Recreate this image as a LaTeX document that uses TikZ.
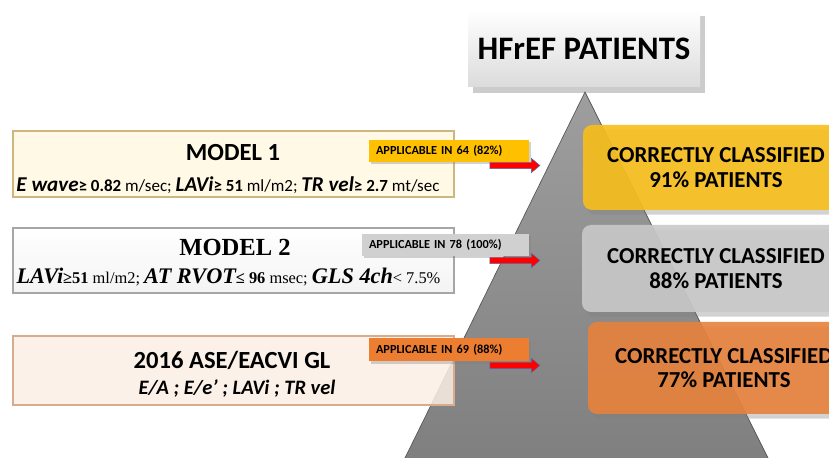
\documentclass[tikz,border=0pt]{standalone}
\usepackage{fontspec}
\setmainfont{Carlito}
\newfontfamily\calibri{Carlito}
\newfontfamily\tnr{Liberation Serif}
\usetikzlibrary{positioning}
\usetikzlibrary{shapes.arrows}
\usetikzlibrary{shadows}
\newdimen\px \px=0.03cm
\definecolor{mgold}{HTML}{F8BF1A}
\definecolor{mgrey}{HTML}{C9C9C9}
\definecolor{morange}{HTML}{E8823C}
\definecolor{agold}{HTML}{FFC000}
\definecolor{agrey}{HTML}{D0D0D0}
\definecolor{aorange}{HTML}{ED7D31}
\definecolor{m1line}{HTML}{CDB77E}
\definecolor{m1fill}{HTML}{FFF8E2}
\definecolor{m3line}{HTML}{D6AC8C}
\definecolor{m3fill}{HTML}{FBEFE6}
\definecolor{arrline}{HTML}{4A6FB0}
\newcommand{\bigit}[1]{{\fontsize{18pt}{20pt}\selectfont\bfseries\itshape #1}}
\newcommand{\smb}[1]{{\bfseries #1}}
\tikzset{
  modelbox/.style={line width=1.2pt, minimum width=441\px, inner sep=0pt, fill opacity=0.85},
  headtext/.style={font=\calibri\fontsize{21pt}{24pt}\selectfont\bfseries},
  appbox/.style={minimum height=22\px, inner xsep=7\px, inner ysep=0pt, align=left,
    font=\calibri\fontsize{10.5pt}{12pt}\selectfont\bfseries,
    drop shadow={shadow xshift=2pt, shadow yshift=-2pt, opacity=0.35}},
  resbox/.style={rounded corners=9\px, align=center, fill opacity=0.9, text opacity=1,
    font=\calibri\fontsize{19.5pt}{21pt}\selectfont\bfseries,
    drop shadow={shadow xshift=3pt, shadow yshift=-4pt, opacity=0.35}},
  redarrow/.style={single arrow, fill=red, draw=arrline, line width=0.4pt,
    inner xsep=0pt, inner ysep=3\px, minimum height=50\px,
    single arrow head extend=4\px, single arrow tip angle=80},
}

\begin{document}
\begin{tikzpicture}[x=0.03cm, y=-0.03cm]
  \clip (0,0) rectangle (829,458);
  \fill[white] (0,0) rectangle (829,458);

  % pyramid
  \shade[top color=black!38, bottom color=black!50] (585,92) -- (405,458) -- (768,458) -- cycle;
  \draw[black!65, line width=0.6pt] (405,458) -- (585,92) -- (768,458);

  \node[top color=white, bottom color=black!14, minimum width=232\px, minimum height=77\px,
        font=\calibri\fontsize{28pt}{30pt}\selectfont\bfseries,
        drop shadow={shadow xshift=4pt, shadow yshift=-5pt, opacity=0.4}] (top) at (584,48.5) {HFrEF PATIENTS};

  % models
  \node[modelbox, draw=m1line, fill=m1fill, minimum height=66\px] (m1) at (233.5,164) {};
  \node[headtext] (m1head) at (233,153) {MODEL 1};
  \node[font=\calibri\fontsize{14.5pt}{16pt}\selectfont] (m1text) at (228,185)
    {\bigit{E wave}\smb{≥ 0.82} m/sec; \bigit{LAVi}\smb{≥ 51} ml/m2; \bigit{TR vel}\smb{≥ 2.7} mt/sec};

  \node[modelbox, draw=black!35, top color=white, bottom color=black!5, minimum height=65\px] (m2) at (233.5,260.5) {};
  \node[font=\tnr\fontsize{21pt}{24pt}\selectfont\bfseries] (m2head) at (235,247) {MODEL 2};
  \node[font=\tnr\fontsize{14pt}{16pt}\selectfont] (m2text) at (228.5,277)
    {{\fontsize{19pt}{21pt}\selectfont\bfseries\itshape LAVi}\smb{≥51} ml/m2; {\fontsize{19pt}{21pt}\selectfont\bfseries\itshape AT RVOT}\smb{≤ 96} msec; {\fontsize{19pt}{21pt}\selectfont\bfseries\itshape GLS 4ch}< 7.5\%};

  \node[modelbox, draw=m3line, fill=m3fill, minimum height=69\px] (m3) at (233.5,370.5) {};
  \node[headtext] (m3head) at (232,360) {2016 ASE/EACVI GL};
  \node[font=\calibri\fontsize{17.5pt}{20pt}\selectfont\bfseries\itshape] (m3text) at (237,389) {E/A ; E/e’ ; LAVi ; TR vel};

  % results
  \node[resbox, fill=mgold, minimum width=266\px, minimum height=85\px] (r1) at (716,167.5) {CORRECTLY CLASSIFIED\\91\% PATIENTS};
  \node[resbox, fill=mgrey, minimum width=268\px, minimum height=87\px] (r2) at (716,268.5) {CORRECTLY CLASSIFIED\\88\% PATIENTS};
  \node[resbox, fill=morange, minimum width=272\px, minimum height=92\px] (r3) at (724,368) {CORRECTLY CLASSIFIED\\77\% PATIENTS};

  % applicability
  \node[appbox, fill=agold, text width=146\px] (a1) at (449,151) {APPLICABLE IN 64 (82\%)};
  \node[appbox, fill=agrey, text width=153\px] (a2) at (445.5,245) {APPLICABLE IN 78 (100\%)};
  \node[appbox, fill=aorange, text width=146\px, minimum height=23\px] (a3) at (449,350) {APPLICABLE IN 69 (88\%)};

  \node[redarrow] (arr1) at (513,165.5) {};
  \node[redarrow] (arr2) at (513,260.5) {};
  \node[redarrow] (arr3) at (513,365.5) {};
\end{tikzpicture}
\end{document}
